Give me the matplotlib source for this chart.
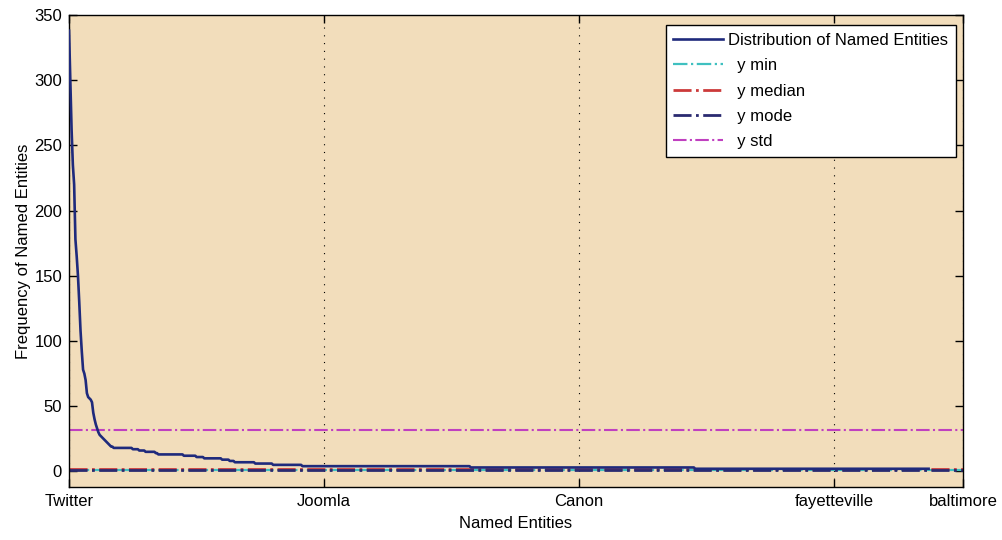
import numpy as np
import matplotlib
matplotlib.use("Agg")
import matplotlib.pyplot as plt

plt.rcParams['font.family'] = ['Liberation Sans', 'DejaVu Sans']

# frequency of each named entity, sorted (head read point by point)
head_values = [338, 300, 262, 235, 220, 178, 165, 150, 130, 108,
               92, 78, 75, 70, 60, 57, 56, 55, 53, 45,
               40, 36, 33, 30, 28, 27, 26, 25, 24, 23,
               22, 21, 20, 19, 19]
# the long tail as plateaus: level and how many entities sit on it
tail_levels = [18, 17, 16, 15, 14, 13, 12, 11, 10, 9, 8, 7, 6, 5, 4, 3, 2]
tail_counts = [15, 5, 5, 8, 2, 20, 10, 6, 14, 6, 4, 16, 14, 23, 132, 176, 184]

n_total = 702  # x axis runs to the last entity
tick_pos = [1, 201, 401, 601, 702]
tick_labels = ['Twitter', 'Joomla', 'Canon', 'fayetteville', 'baltimore']

# summary lines
y_min = 1
y_median = 2
y_mode = 1
y_std = 32

freq = np.concatenate([head_values, np.repeat(tail_levels, tail_counts)])
x = np.arange(1, len(freq) + 1)

fig = plt.figure(figsize=(10.02, 5.40), dpi=100)
ax = fig.add_axes([0.0689, 0.0981, 0.8922, 0.8741])
ax.set_facecolor('#f2ddbb')

ax.plot(x, freq, color='#1f2a7c', linewidth=1.9, label='Distribution of Named Entities', zorder=3)

dd = (0, (6.5, 1.6, 1.0, 1.6))
ax.axhline(y_min, color='#3fc0c0', linestyle=dd, linewidth=1.6, label='  y min', zorder=2)
ax.axhline(y_median, color='#cc3a3a', linestyle=dd, linewidth=2.0, label='  y median', zorder=2)
ax.axhline(y_mode, color='#2a2a70', linestyle=dd, linewidth=2.0, label='  y mode', zorder=2)
ax.axhline(y_std, color='#c040c0', linestyle=dd, linewidth=1.5, label='  y std', zorder=2)

ax.set_xlim(1, n_total)
ax.set_ylim(-12, 350)
ax.set_yticks(np.arange(0, 351, 50))
ax.set_xticks(tick_pos)
ax.set_xticklabels(tick_labels)
ax.tick_params(direction='in', length=6, width=1, top=True, right=True, labelsize=12, pad=5)
ax.xaxis.grid(True, linestyle=(0, (1, 6)), color='black', linewidth=0.8)
for s in ax.spines.values():
    s.set_linewidth(1.0)

ax.set_xlabel('Named Entities', fontsize=12, labelpad=5)
ax.set_ylabel('Frequency of Named Entities', fontsize=12, labelpad=2)

leg = ax.legend(loc='upper right', bbox_to_anchor=(0.992, 0.978), fancybox=False,
                edgecolor='black', framealpha=1, fontsize=12, handlelength=3.0,
                handletextpad=0.3, labelspacing=0.62, borderaxespad=0, borderpad=0.45)
leg.get_frame().set_linewidth(1.0)

fig.savefig('out.png', dpi=100)
